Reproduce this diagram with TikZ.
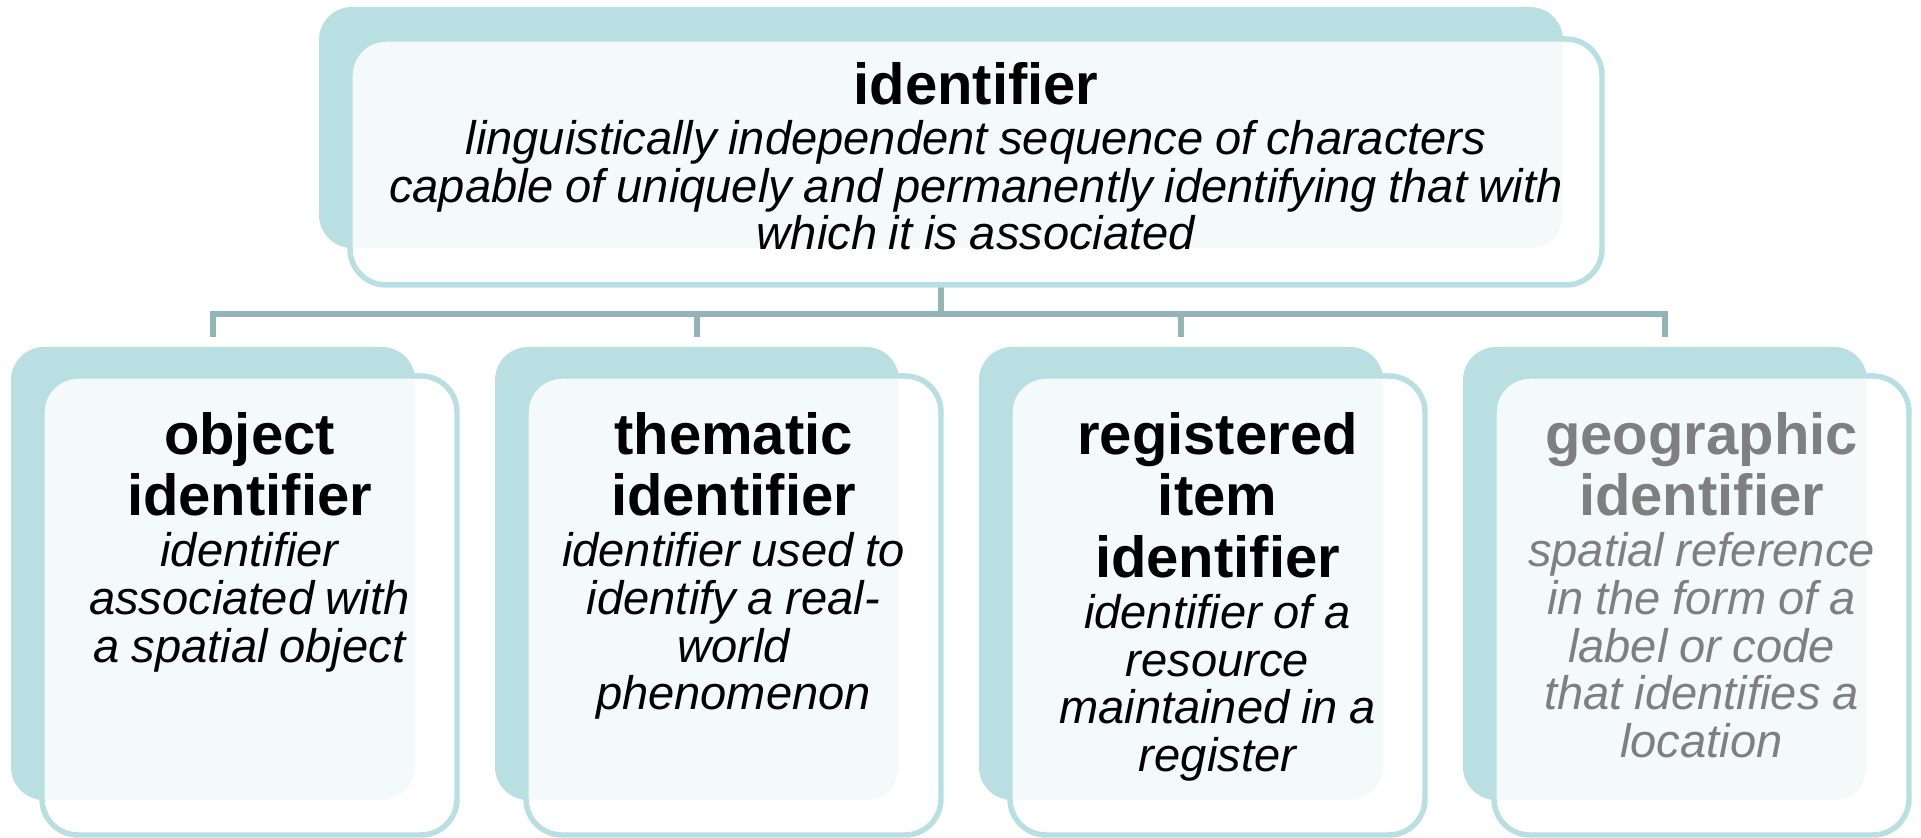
\documentclass[tikz,border=0pt]{standalone}
\usepackage{fontspec}
\setmainfont{Liberation Sans}
\usetikzlibrary{positioning}

\definecolor{boxteal}{RGB}{185,223,226}
\definecolor{linkgray}{RGB}{148,179,183}
\definecolor{softgray}{RGB}{127,127,127}

\newcommand{\headfont}{\fontsize{16.5}{17.6}\selectfont\bfseries}
\newcommand{\deffont}{\fontsize{13.4}{13.6}\selectfont\itshape}

\tikzset{
	backbox/.style={fill=boxteal, draw=none, rounded corners=0.33cm, inner sep=0pt, outer sep=0pt},
	frontbox/.style={fill=white, fill opacity=0.85, draw=boxteal, line width=1.56pt, rounded corners=0.36cm, inner sep=0pt, outer sep=0pt},
	boxtext/.style={text width=4.1cm, align=center, inner sep=0pt, outer sep=0pt},
	link/.style={draw=linkgray, line width=1.7pt},
}

\begin{document}
\begin{tikzpicture}
	\useasboundingbox (0,0) rectangle (19.21,-8.38);
	
	% level of the horizontal bar
	\coordinate (bus) at (0,-3.14);
	
	% top box
	\node[backbox, minimum width=12.44cm, minimum height=2.41cm] (topback) at (9.41,-1.275) {};
	
	% lower boxes, back layer
	\node[backbox, minimum width=4.04cm, minimum height=4.53cm] (back1) at (2.13,-5.735) {};
	\node[backbox, minimum width=4.04cm, minimum height=4.53cm] (back2) at (6.97,-5.735) {};
	\node[backbox, minimum width=4.04cm, minimum height=4.53cm] (back3) at (11.81,-5.735) {};
	\node[backbox, minimum width=4.04cm, minimum height=4.53cm] (back4) at (16.65,-5.735) {};
	
	% connectors
	\draw[link] (topback.south |- 0,-2.84) -- (topback.south |- bus) -| ([yshift=0.1cm]back1.north);
	\draw[link] (topback.south |- 0,-2.84) -- (topback.south |- bus) -| ([yshift=0.1cm]back2.north);
	\draw[link] (topback.south |- 0,-2.84) -- (topback.south |- bus) -| ([yshift=0.1cm]back3.north);
	\draw[link] (topback.south |- 0,-2.84) -- (topback.south |- bus) -| ([yshift=0.1cm]back4.north);
	
	% front layer
	\node[frontbox, minimum width=12.52cm, minimum height=2.46cm, below right=0.32cm and 0.31cm of topback.north west] (topfront) {};
	\node[frontbox, minimum width=4.15cm, minimum height=4.59cm, below right=0.29cm and 0.31cm of back1.north west] (front1) {};
	\node[frontbox, minimum width=4.15cm, minimum height=4.59cm, below right=0.29cm and 0.31cm of back2.north west] (front2) {};
	\node[frontbox, minimum width=4.15cm, minimum height=4.59cm, below right=0.29cm and 0.31cm of back3.north west] (front3) {};
	\node[frontbox, minimum width=4.15cm, minimum height=4.59cm, below right=0.29cm and 0.31cm of back4.north west] (front4) {};
	
	% texts
	\node[boxtext, text width=12.3cm, below=0.23cm of topfront.north] (toptext)
	{{\headfont identifier\par}\vspace{0.7pt}{\deffont linguistically independent sequence of characters\\capable of uniquely and permanently identifying that with\\which it is associated\par}};
	\node[boxtext, below=0.36cm of front1.north] (text1)
	{{\headfont object\\identifier\par}\vspace{0.8pt}{\deffont identifier\\associated with\\a spatial object\par}};
	\node[boxtext, below=0.36cm of front2.north] (text2)
	{{\headfont thematic\\identifier\par}\vspace{0.8pt}{\deffont identifier used to\\identify a real-\\world\\phenomenon\par}};
	\node[boxtext, below=0.36cm of front3.north] (text3)
	{{\headfont registered\\item\\identifier\par}\vspace{0.8pt}{\deffont identifier of a\\resource\\maintained in a\\register\par}};
	\node[boxtext, text=softgray, below=0.36cm of front4.north] (text4)
	{{\headfont geographic\\identifier\par}\vspace{0.8pt}{\deffont spatial reference\\in the form of a\\label or code\\that identifies a\\location\par}};
\end{tikzpicture}
\end{document}
